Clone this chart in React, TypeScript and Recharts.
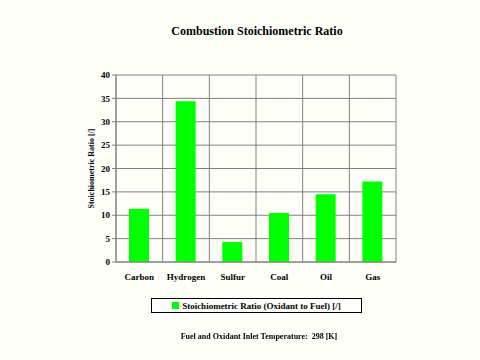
import React from 'react';
import {
    BarChart,
    Bar,
    XAxis,
    YAxis,
    CartesianGrid,
    Legend,
} from 'recharts';

const fuels = ['Carbon', 'Hydrogen', 'Sulfur', 'Coal', 'Oil', 'Gas'];
const ratios = [11.4, 34.4, 4.3, 10.5, 14.5, 17.2];
const yTicks = [0, 5, 10, 15, 20, 25, 30, 35, 40];

const chartData = fuels.map((name, i) => ({ name, ratio: ratios[i] }));

const font = '"Liberation Serif", "Times New Roman", serif';
const bg = '#fffffa';

function LegendBox() {
    return (
        <div
            style={{
                width: 209,
                height: 13,
                border: '1px solid #000',
                background: '#fff',
                display: 'flex',
                alignItems: 'center',
                justifyContent: 'center',
                fontFamily: font,
                fontWeight: 'bold',
                fontSize: 9,
                color: '#000',
            }}
        >
            <span
                style={{
                    display: 'inline-block',
                    width: 7,
                    height: 7,
                    background: '#00ff00',
                    marginRight: 3,
                }}
            />
            Stoichiometric Ratio (Oxidant to Fuel) [/]
        </div>
    );
}

export default function App() {
    return (
        <div
            style={{
                position: 'fixed',
                left: 0,
                top: 0,
                width: 480,
                height: 360,
                background: bg,
                fontFamily: font,
            }}
        >
            <div
                style={{
                    position: 'absolute',
                    top: 24,
                    left: 0,
                    width: 514,
                    textAlign: 'center',
                    fontWeight: 'bold',
                    fontSize: 12,
                    color: '#000',
                }}
            >
                Combustion Stoichiometric Ratio
            </div>
            <BarChart
                width={480}
                height={360}
                data={chartData}
                margin={{ top: 75, right: 84, left: 86, bottom: 36 }}
                barSize={20}
            >
                <CartesianGrid
                    stroke="#808080"
                    strokeWidth={1}
                    verticalCoordinatesGenerator={({ offset }: any) =>
                        fuels
                            .map((_, i) => offset.left + (i * offset.width) / fuels.length)
                            .concat(offset.left + offset.width)
                    }
                />
                <XAxis
                    dataKey="name"
                    interval={0}
                    stroke="#808080"
                    tickLine={false}
                    tickMargin={6}
                    tick={{ fill: '#000', fontSize: 9, fontWeight: 'bold', fontFamily: font }}
                    height={47}
                />
                <YAxis
                    domain={[0, 40]}
                    ticks={yTicks}
                    interval={0}
                    width={30}
                    stroke="#808080"
                    tickSize={4}
                    tick={{ fill: '#000', fontSize: 9, fontWeight: 'bold', fontFamily: font }}
                    label={{
                        value: 'Stoichiometric Ratio [/]',
                        angle: -90,
                        position: 'insideLeft',
                        offset: 5,
                        style: {
                            textAnchor: 'middle',
                            fill: '#000',
                            fontSize: 8,
                            fontWeight: 'bold',
                            fontFamily: font,
                        },
                    }}
                />
                <Legend
                    content={() => <LegendBox />}
                    wrapperStyle={{ position: 'absolute', left: 151, top: 298, width: 211 }}
                />
                <Bar dataKey="ratio" fill="#00ff00" isAnimationActive={false} />
            </BarChart>
            <div
                style={{
                    position: 'absolute',
                    top: 332,
                    left: 0,
                    width: 518,
                    textAlign: 'center',
                    fontWeight: 'bold',
                    fontSize: 8,
                    color: '#000',
                    whiteSpace: 'pre',
                }}
            >
                {'Fuel and Oxidant Inlet Temperature:  298 [K]'}
            </div>
        </div>
    );
}
